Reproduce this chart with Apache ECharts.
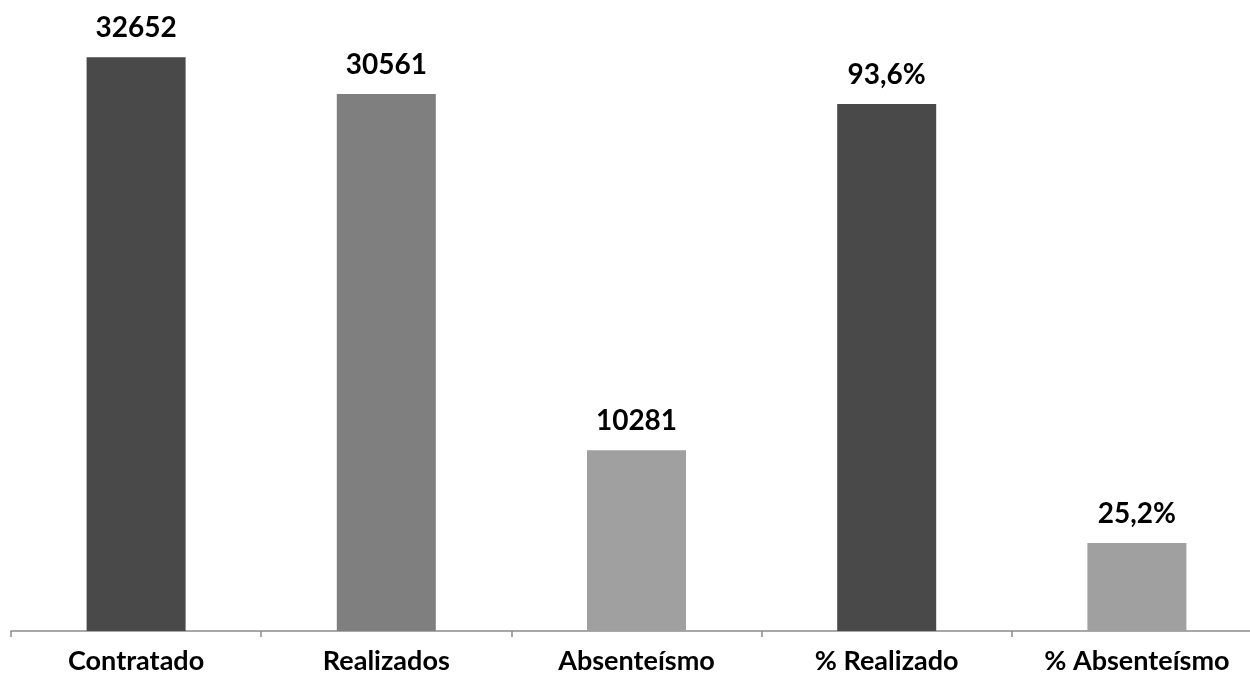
<!DOCTYPE html>
<html><head><meta charset="utf-8">
<script src="https://cdn.jsdelivr.net/npm/echarts@6/dist/echarts.min.js"></script>
<style>html,body{margin:0;padding:0;background:#fff;overflow:hidden}#c{width:1262px;height:681px}</style>
</head><body><div id="c"></div>
<script>
const categories = ['Contratado', 'Realizados', 'Absenteísmo', '% Realizado', '% Absenteísmo'];
const countValues = [32652, 30561, 10281, null, null];
const percentValues = [null, null, null, 93.6, 25.2];
const barColors = ['#494949', '#7f7f7f', '#a0a0a0', '#494949', '#a0a0a0'];

const chart = echarts.init(document.getElementById('c'));
const font = 'Lato, "Open Sans", sans-serif';
const lbl = (fmt) => ({show: true, position: 'top', distance: 15, color: '#000', fontWeight: 'bold', fontSize: 28, fontFamily: font, formatter: fmt});
chart.setOption({
  animation: false,
  grid: {left: 11, right: 0, top: 16, bottom: 50, containLabel: false},
  xAxis: {
    type: 'category', data: categories,
    axisLine: {lineStyle: {color: '#8c8c8c', width: 1.5}},
    axisTick: {show: true, length: 6, lineStyle: {color: '#8c8c8c', width: 1.5}},
    axisLabel: {color: '#000', fontWeight: 'bold', fontSize: 27, fontFamily: font, margin: 17}
  },
  yAxis: [
    {type: 'value', min: 0, max: 35000, show: false, splitLine: {show: false}},
    {type: 'value', min: 11.49, max: 107.31, show: false, splitLine: {show: false}}
  ],
  series: [
    {type: 'bar', yAxisIndex: 0, barWidth: 99, barGap: '-100%',
     data: countValues.map((v, i) => v == null ? '-' : {value: v, itemStyle: {color: barColors[i]}}),
     label: lbl(p => String(p.value))},
    {type: 'bar', yAxisIndex: 1, barWidth: 99, barGap: '-100%',
     data: percentValues.map((v, i) => v == null ? '-' : {value: v, itemStyle: {color: barColors[i]}}),
     label: lbl(p => p.value.toFixed(1).replace('.', ',') + '%')}
  ]
});
</script></body></html>
